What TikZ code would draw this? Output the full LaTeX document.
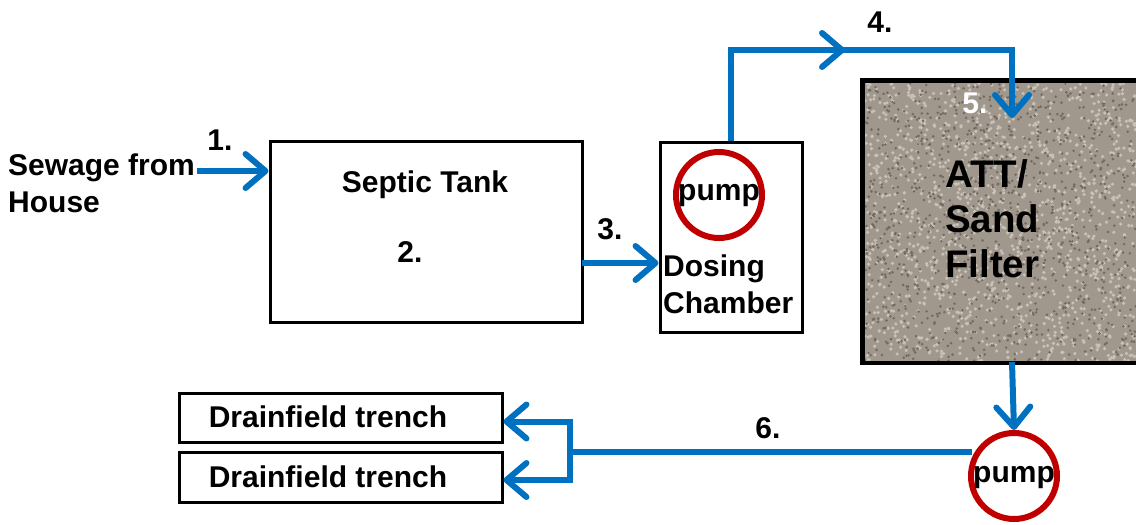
\documentclass[tikz,border=0pt]{standalone}
\usepackage{fontspec}
\setmainfont{Liberation Sans}
\usetikzlibrary{arrows.meta}
\definecolor{flowblue}{RGB}{0,112,192}
\definecolor{pumpred}{RGB}{192,0,0}
\definecolor{sandbase}{RGB}{160,151,141}
\definecolor{sandlight}{RGB}{200,193,184}
\definecolor{sanddark}{RGB}{115,105,96}
\tikzset{
  txt/.style={font=\fontsize{30}{37}\selectfont\bfseries, inner sep=0pt},
  bigtxt/.style={font=\fontsize{38.5}{45}\selectfont\bfseries, inner sep=0pt},
  box/.style={draw=black, line width=3pt, inner sep=0pt},
  flow/.style={draw=flowblue, line width=6pt, -{Straight Barb[length=20pt, width=34pt, round]}},
  pipe/.style={draw=flowblue, line width=6pt},
  pumpc/.style={circle, draw=pumpred, line width=6pt, inner sep=0pt},
}
\begin{document}
\begin{tikzpicture}[x=1pt, y=-1pt]
\useasboundingbox (0,0) rectangle (1136,525);

% sources
\node[txt, anchor=west, align=left] (src) at (8,183) {Sewage from\\House};
\node[txt] (n1) at (220,140) {1.};

% septic tank
\node[box, minimum width=312pt, minimum height=181pt] (septic) at (426,231.5) {};
\node[txt] (septiclbl) at (425,185) {Septic Tank};
\node[txt] (n2) at (410,252) {2.};

% dosing chamber
\node[box, minimum width=142pt, minimum height=190pt] (dose) at (731,237) {};
\node[pumpc, minimum size=86pt] (pump1) at (719,195) {};
\node[txt] (pump1lbl) at (719,196) {pump};
\node[txt, anchor=west, align=left] (doselbl) at (663,284) {Dosing\\Chamber};
\node[txt] (n3) at (610,229) {3.};

% sand filter
\node[box, fill=sandbase, minimum width=282pt, minimum height=281pt] (sand) at (1004,221.5) {};
\begin{scope}
\clip (865,83) rectangle (1136,360);
\pgfmathsetseed{11}
\foreach \i in {1,...,1400} {
  \pgfmathsetmacro{\rx}{865+272*rnd}
  \pgfmathsetmacro{\ry}{83+278*rnd}
  \fill[sandlight] (\rx,\ry) circle (1.8pt);
}
\foreach \i in {1,...,1100} {
  \pgfmathsetmacro{\rx}{865+272*rnd}
  \pgfmathsetmacro{\ry}{83+278*rnd}
  \fill[sanddark] (\rx,\ry) circle (1.4pt);
}
\end{scope}
\draw[line width=3pt] (sand.north west) rectangle (sand.south east);
\node[bigtxt, anchor=west, align=left] (sandlbl) at (945,219) {ATT/\\Sand\\Filter};
\node[txt, text=white] (n5) at (975,103) {5.};
\node[txt] (n4) at (880,22) {4.};

% second pump
\node[pumpc, minimum size=86pt] (pump2) at (1014,476) {};
\node[txt] (pump2lbl) at (1014,478) {pump};
\node[txt] (n6) at (768,428) {6.};

% drainfield
\node[box, minimum width=323pt, minimum height=49pt] (drain1) at (340.5,417.5) {};
\node[txt] (drain1lbl) at (328,417) {Drainfield trench};
\node[box, minimum width=323pt, minimum height=50pt] (drain2) at (340.5,477) {};
\node[txt] (drain2lbl) at (328,477) {Drainfield trench};

% connectors
\coordinate (s1) at (197,171);
\draw[flow] (s1) -- (septic.west |- s1);
\coordinate (s3) at (582,263);
\draw[flow] (s3) -- (dose.west |- s3);
\coordinate (c4) at (845,50);
\coordinate (t5) at (1012,118);
\draw[pipe] (dose.north) |- (c4);
\draw[flow] ([xshift=-20pt]c4) -- (c4);
\draw[flow] (c4) -| (t5);
\coordinate (f6) at (1012,362);
\draw[flow] (f6) -- (pump2.north);
\coordinate (p6) at (972,452);
\coordinate (split) at (570,452);
\draw[pipe] (p6) -- (split);
\draw[flow] (split) |- ([yshift=-4pt]drain1.east);
\draw[flow] (split) |- ([yshift=-3pt]drain2.east);
\end{tikzpicture}
\end{document}
